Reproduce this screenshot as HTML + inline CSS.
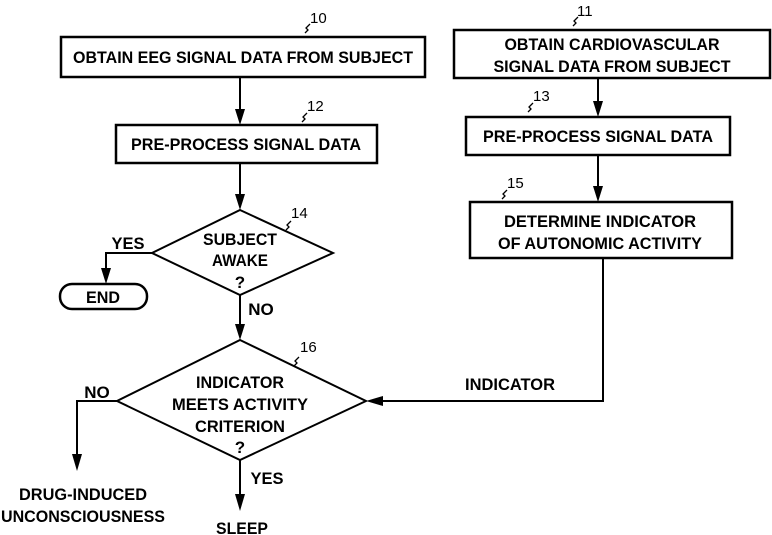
<!DOCTYPE html>
<html><head><meta charset="utf-8"><style>
html,body{margin:0;padding:0;background:#fff;}
svg{display:block;}
text{font-family:"Liberation Sans",sans-serif;font-weight:bold;font-size:17px;fill:#000;}
.n{font-size:15px;font-weight:normal;}
</style></head><body>
<svg width="772" height="535" viewBox="0 0 772 535" xmlns="http://www.w3.org/2000/svg">
<g fill="none" stroke="#000" stroke-width="2.5">
<rect x="61" y="37" width="364" height="40"/>
<rect x="454" y="30" width="316" height="48"/>
<rect x="116" y="125" width="261" height="38"/>
<rect x="466" y="117" width="264" height="38"/>
<rect x="470" y="202" width="262" height="56"/>
<polygon points="240,210 333,253 240,295 152,253" stroke-width="2"/>
<rect x="60" y="284" width="87" height="25" rx="12"/>
<polygon points="240,340 366,401 240,460 117,401" stroke-width="2"/>
</g>
<g stroke="#000" stroke-width="2" fill="none">
<line x1="240" y1="77" x2="240" y2="120"/>
<line x1="240" y1="163" x2="240" y2="205"/>
<line x1="598" y1="78" x2="598" y2="112"/>
<line x1="598" y1="155" x2="598" y2="197"/>
<polyline points="152,253 106,253 106,278"/>
<line x1="240" y1="295" x2="240" y2="335"/>
<polyline points="603,258 603,401 370,401"/>
<polyline points="117,401 77,401 77,465"/>
<line x1="240" y1="460" x2="240" y2="505"/>
<path d="M305,33 l3,-3 l-2,-2 l4,-4 M573,26 l3,-3 l-2,-2 l4,-4 M302,122 l3,-3 l-2,-2 l4,-4 M528,112 l3,-3 l-2,-2 l4,-4 M502,199 l3,-3 l-2,-2 l4,-4 M286,230 l3,-3 l-2,-2 l4,-4 M294,366 l3,-3 l-2,-2 l4,-4" stroke-width="1.3"/>
</g>
<g fill="#000">
<path d="M235,109 L245,109 L240,125 Z"/>
<path d="M235,194 L245,194 L240,210 Z"/>
<path d="M593,101 L603,101 L598,117 Z"/>
<path d="M593,186 L603,186 L598,202 Z"/>
<path d="M101,268 L111,268 L106,284 Z"/>
<path d="M235,324 L245,324 L240,340 Z"/>
<path d="M72,454 L82,454 L77,471 Z"/>
<path d="M235,494 L245,494 L240,511 Z"/>
<path d="M366,401 L383,396 L383,406 Z"/>
</g>
<text x="243" y="63" text-anchor="middle" textLength="340" lengthAdjust="spacingAndGlyphs">OBTAIN EEG SIGNAL DATA FROM SUBJECT</text>
<text x="612" y="50" text-anchor="middle" textLength="215" lengthAdjust="spacingAndGlyphs">OBTAIN CARDIOVASCULAR</text>
<text x="612" y="72" text-anchor="middle" textLength="237" lengthAdjust="spacingAndGlyphs">SIGNAL DATA FROM SUBJECT</text>
<text x="246" y="150" text-anchor="middle" textLength="230" lengthAdjust="spacingAndGlyphs">PRE-PROCESS SIGNAL DATA</text>
<text x="598" y="142" text-anchor="middle" textLength="230" lengthAdjust="spacingAndGlyphs">PRE-PROCESS SIGNAL DATA</text>
<text x="600" y="227" text-anchor="middle" textLength="192" lengthAdjust="spacingAndGlyphs">DETERMINE INDICATOR</text>
<text x="600" y="249" text-anchor="middle" textLength="204" lengthAdjust="spacingAndGlyphs">OF AUTONOMIC ACTIVITY</text>
<text x="240" y="245" text-anchor="middle" textLength="74" lengthAdjust="spacingAndGlyphs">SUBJECT</text>
<text x="240" y="266" text-anchor="middle" textLength="56" lengthAdjust="spacingAndGlyphs">AWAKE</text>
<text x="240" y="288" text-anchor="middle">?</text>
<text x="128" y="249" text-anchor="middle" textLength="33" lengthAdjust="spacingAndGlyphs">YES</text>
<text x="103" y="303" text-anchor="middle" textLength="34" lengthAdjust="spacingAndGlyphs">END</text>
<text x="261" y="315" text-anchor="middle">NO</text>
<text x="240" y="388" text-anchor="middle" textLength="88" lengthAdjust="spacingAndGlyphs">INDICATOR</text>
<text x="240" y="410" text-anchor="middle" textLength="136" lengthAdjust="spacingAndGlyphs">MEETS ACTIVITY</text>
<text x="240" y="432" text-anchor="middle" textLength="90" lengthAdjust="spacingAndGlyphs">CRITERION</text>
<text x="240" y="453" text-anchor="middle">?</text>
<text x="510" y="390" text-anchor="middle" textLength="90" lengthAdjust="spacingAndGlyphs">INDICATOR</text>
<text x="97" y="398" text-anchor="middle">NO</text>
<text x="267" y="484" text-anchor="middle" textLength="33" lengthAdjust="spacingAndGlyphs">YES</text>
<text x="83" y="500" text-anchor="middle" textLength="128" lengthAdjust="spacingAndGlyphs">DRUG-INDUCED</text>
<text x="83" y="522" text-anchor="middle" textLength="164" lengthAdjust="spacingAndGlyphs">UNCONSCIOUSNESS</text>
<text x="242" y="534" text-anchor="middle" textLength="52" lengthAdjust="spacingAndGlyphs">SLEEP</text>
<text class="n" x="310" y="23">10</text>
<text class="n" x="577" y="16">11</text>
<text class="n" x="307" y="111">12</text>
<text class="n" x="533" y="101">13</text>
<text class="n" x="507" y="188">15</text>
<text class="n" x="291" y="218">14</text>
<text class="n" x="300" y="352">16</text>
</svg>
</body></html>
